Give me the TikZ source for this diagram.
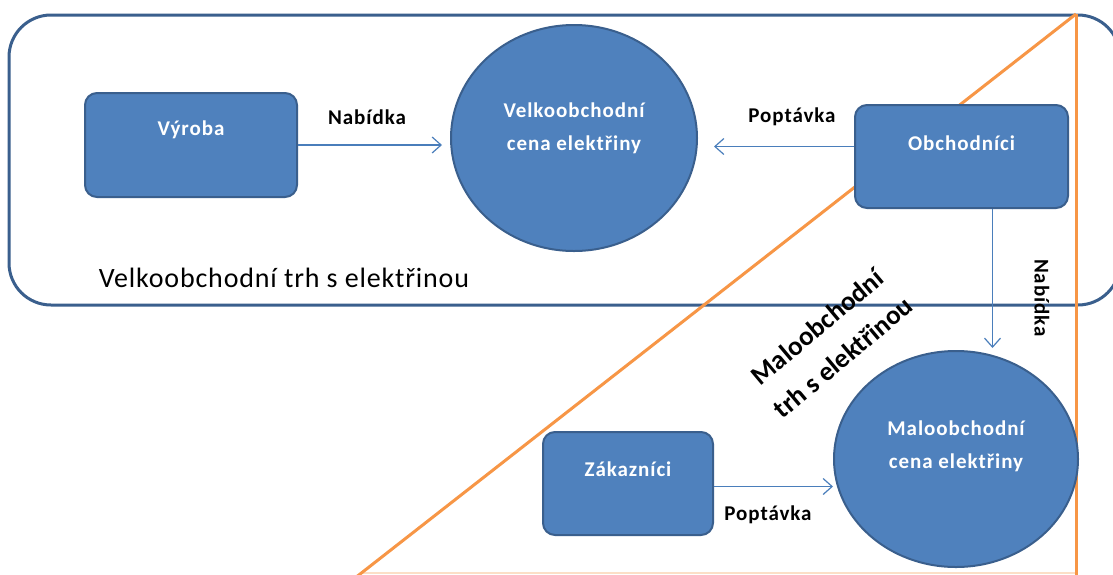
\documentclass[tikz,border=0pt]{standalone}
\usepackage{fontspec}
\setmainfont{Carlito}
\usetikzlibrary{arrows.meta,shapes.geometric}
\definecolor{boxfill}{HTML}{4F81BD}
\definecolor{boxdraw}{HTML}{3A5F8D}
\definecolor{orng}{HTML}{F79646}
\definecolor{arrc}{HTML}{4A7EBB}
\newfontfamily\spacedfont[LetterSpace=4.5]{Carlito}
\newfontfamily\spacedbig[LetterSpace=3]{Carlito}
\tikzset{
  box/.style={rectangle, rounded corners=12pt, fill=boxfill, draw=boxdraw, line width=2pt, inner sep=0pt},
  circ/.style={ellipse, fill=boxfill, draw=boxdraw, line width=2pt, inner sep=0pt},
  btext/.style={text=white, font=\spacedfont\fontsize{21}{33}\selectfont\bfseries, align=center, inner sep=0pt},
  lbl/.style={text=black, font=\spacedfont\fontsize{21}{24}\selectfont\bfseries, inner sep=0pt},
  biglbl/.style={text=black, font=\spacedbig\fontsize{28}{32}\selectfont, inner sep=0pt},
  rotlbl/.style={text=black, font=\fontsize{27}{40}\selectfont\bfseries, align=center, inner sep=0pt},
  arr/.style={draw=arrc, line width=1.2pt, -{Straight Barb[length=9pt,width=16pt]}},
  outer/.style={draw=boxdraw, line width=3pt, rounded corners=42pt},
  orangeline/.style={draw=orng, line width=3pt}
}
\begin{document}
\begin{tikzpicture}[x=1pt,y=-1pt]
\clip (0,0) rectangle (1113,574);
\fill[white] (0,0) rectangle (1113,574);
% outer rounded rectangle
\draw[outer] (9,15) rectangle (1120,305);
% orange triangle
\draw[draw=orng, opacity=0.3, line width=2pt] (360,573) -- (1076,573);
\coordinate (apex) at (1076,14);
\coordinate (diagend) at (355,578);
\coordinate (vertend) at (1076,580);
\draw[orangeline] (apex) -- (diagend);
\draw[orangeline] (apex) -- (vertend);
% nodes
\node[box, minimum width=212pt, minimum height=104pt] (vyroba) at (191,145) {};
\node[btext] (vyrobaT) at ([yshift=15pt]vyroba.center) {Výroba};
\node[circ, minimum width=246pt, minimum height=226pt] (velko) at (574,138) {};
\node[btext] (velkoT) at ([yshift=10pt]velko.center) {Velkoobchodní\\cena elektřiny};
\node[box, minimum width=213pt, minimum height=103pt] (obch) at (961.5,156.5) {};
\node[btext] (obchT) at ([yshift=13.5pt]obch.center) {Obchodníci};
\node[box, minimum width=170pt, minimum height=103pt] (zak) at (628,483.5) {};
\node[btext] (zakT) at ([yshift=14.5pt]zak.center) {Zákazníci};
\node[circ, minimum width=244pt, minimum height=216pt] (malo) at (956,459) {};
\node[btext] (maloT) at ([yshift=13pt]malo.center) {Maloobchodní\\cena elektřiny};
% connectors
\draw[arr] (vyroba.east) -- ([xshift=-8pt]vyroba.east -| velko.west);
\coordinate (obchA) at ([yshift=10pt]obch.west);
\draw[arr] (obchA) -- ([xshift=16pt]obchA -| velko.east);
\coordinate (obchB) at ([xshift=31pt]obch.south);
\draw[arr] (obchB) -- ([yshift=2pt]obchB |- malo.north);
\coordinate (zakA) at ([yshift=-3pt]zak.east);
\draw[arr] (zakA) -- (zakA -| malo.west);
% labels
\node[lbl] (nab1) at (367,117) {Nabídka};
\node[lbl] (pop1) at (792,117) {Poptávka};
\node[lbl] (pop2) at (768,515) {Poptávka};
\node[lbl, rotate=-90] (nab2) at (1042,298) {Nabídka};
\node[biglbl] (velkotrh) at (284,278) {Velkoobchodní trh s elektřinou};
\node[rotlbl, rotate=40] (malotrh) at (830,342) {Maloobchodní\\trh s elektřinou};
\end{tikzpicture}
\end{document}
